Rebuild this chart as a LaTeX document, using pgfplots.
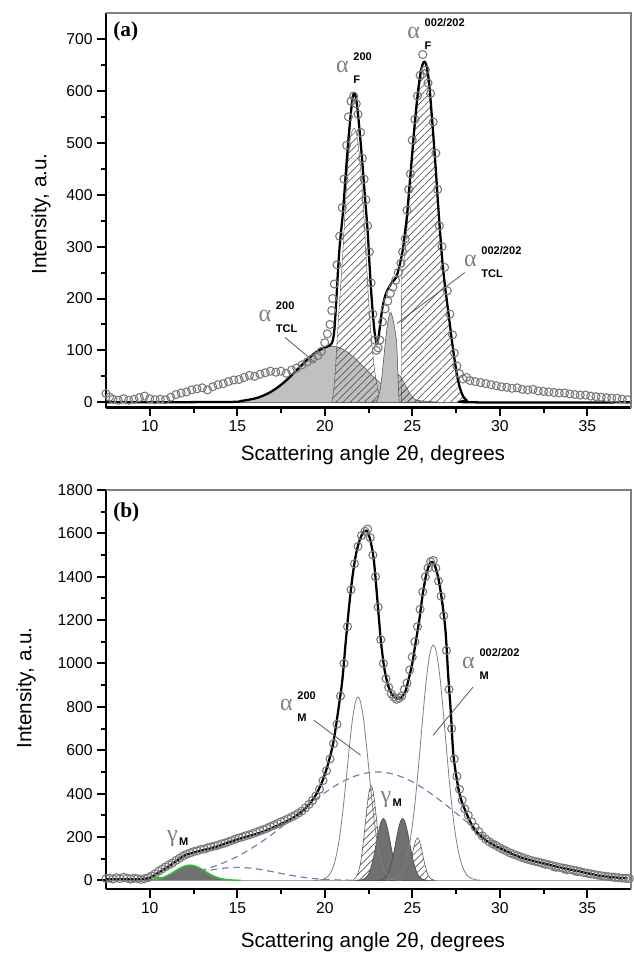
\documentclass[border=0pt]{standalone}
\usepackage{fontspec}
\setmainfont{Liberation Sans}
\newfontfamily\serifg{Liberation Serif}
\usepackage{pgfplots}
\pgfplotsset{compat=1.18}
\usetikzlibrary{patterns.meta}
\definecolor{dashblue}{RGB}{120,125,180}
\definecolor{hatchc}{RGB}{85,85,85}
\definecolor{lgray}{RGB}{192,192,192}
\definecolor{dgray}{RGB}{112,112,112}
\definecolor{circ}{RGB}{120,120,120}
\definecolor{gline}{RGB}{40,200,40}
\newcommand{\glab}[3]{\textcolor{gray}{\fontsize{18}{18}\selectfont\serifg #1}\hspace{3.6pt}\begin{tabular}[c]{@{}l@{}}\fontsize{8.3}{8.3}\selectfont\bfseries #2\\[5.2pt]\fontsize{8.3}{8.3}\selectfont\bfseries #3\end{tabular}}
\newcommand{\gmlab}{\textcolor{gray}{\fontsize{18}{18}\selectfont\serifg γ}\hspace{1.2pt}\raisebox{-3pt}{\fontsize{8.3}{8.3}\selectfont\bfseries M}}
\pgfplotsset{
 myaxis/.style={
  scale only axis, width=393.75pt, xmin=7.5, xmax=37.5,
  axis lines=left, axis line style={-, line width=2pt, black},
  tick align=outside, major tick length=6.5pt, minor tick length=4pt,
  every tick/.style={black, line width=1.5pt},
  minor x tick num=1, minor y tick num=1,
  xtick={10,15,...,35},
  tick label style={font=\fontsize{11.8}{12}\selectfont},
  /pgf/number format/assume math mode=true,
  /pgf/number format/1000 sep={},
  clip=false,
 },
 hatch/.style={pattern={Lines[angle=45,distance=3.8pt,line width=0.5pt]}, pattern color=hatchc},
 circs/.style={only marks, mark=o, mark size=3pt, mark options={draw=circ, line width=0.8pt}},
 fitl/.style={black, line width=1.7pt},
}
\begin{document}
\begin{tikzpicture}
\path[use as bounding box] (0,0) rectangle (475.5pt,-714.75pt);
% ---------------- (a) ----------------
\begin{axis}[myaxis, at={(79.5pt,-9.75pt)}, anchor=north west, height=295.9pt,
  ymin=-10, ymax=750, ytick={0,100,...,700}]
\draw[gray, line width=0.8pt] (rel axis cs:0,1) -- (rel axis cs:1,1) -- (rel axis cs:1,0);
\draw[gray!70, line width=0.6pt] (axis cs:7.5,0) -- (axis cs:37.5,0);
% TCL 200 (grey)
\addplot[smooth, fill=lgray, draw=gray!60!black, line width=0.4pt] coordinates {
(14.4,0.7)(14.8,1.4)(15.2,2.5)(15.6,4.4)(16.0,7.4)(16.4,11.8)(16.8,17.9)(17.2,26.2)(17.6,36.5)(18.0,48.6)(18.4,62.1)(18.8,75.7)(19.2,88.5)(19.6,98.8)(20.0,105.6)(20.4,108)(20.8,105.6)(21.2,98.8)(21.6,88.5)(22.0,75.7)(22.4,62.1)(22.8,48.6)(23.2,36.5)(23.6,26.2)(24.0,17.9)(24.4,11.8)(24.8,7.4)(25.2,4.4)(25.6,2.5)(26.0,1.4)(26.4,0.7)} \closedcycle;
% hump under TCL 002/202
\addplot[smooth, fill=lgray, draw=none] coordinates {
(22.7,1.1)(22.9,3.1)(23.1,7.4)(23.3,15.3)(23.5,26.8)(23.7,40)(23.9,50.8)(24.1,55)(24.3,50.8)(24.5,40)(24.7,26.8)(24.9,15.3)(25.1,7.4)(25.3,3.1)(25.5,1.1)} \closedcycle;
\addplot[smooth, hatch, draw=gray!60!black, line width=0.3pt] coordinates {
(22.7,1.1)(22.9,3.1)(23.1,7.4)(23.3,15.3)(23.5,26.8)(23.7,40)(23.9,50.8)(24.1,55)(24.3,50.8)(24.5,40)(24.7,26.8)(24.9,15.3)(25.1,7.4)(25.3,3.1)(25.5,1.1)} \closedcycle;
% F 200 (hatched)
\addplot[smooth, hatch, draw=gray!60!black, line width=0.3pt] coordinates {
(20.4,0)(20.5,20)(20.6,60)(20.7,115)(20.8,170)(20.9,220)(21.0,270)(21.1,330)(21.2,390)(21.3,450)(21.4,490)(21.5,515)(21.6,525)(21.7,528)(21.8,520)(21.9,500)(22.0,470)(22.1,430)(22.2,380)(22.3,320)(22.4,260)(22.5,200)(22.6,150)(22.7,110)(22.8,75)(22.9,50)(23.0,30)(23.1,17)(23.2,8)(23.3,3)(23.4,0)} \closedcycle;
% F 002/202 (hatched)
\addplot[hatch, draw=gray!60!black, line width=0.3pt] coordinates {
(24.38,0)(24.4,245)(24.5,265)(24.6,295)(24.7,335)(24.85,405)(25.0,465)(25.15,525)(25.3,575)(25.45,615)(25.6,638)(25.7,642)(25.8,636)(25.95,606)(26.1,556)(26.3,466)(26.5,366)(26.7,277)(26.85,228)(27.0,188)(27.15,148)(27.3,108)(27.45,73)(27.6,43)(27.75,23)(27.9,10)(28.1,3)(28.3,0)} \closedcycle;
% TCL 002/202 (grey)
\addplot[fill=lgray, draw=gray!60!black, line width=0.4pt] coordinates {
(22.95,0)(23.05,8)(23.15,22)(23.25,45)(23.35,78)(23.45,112)(23.55,142)(23.65,163)(23.72,173)(23.8,172)(23.9,160)(24.0,142)(24.1,120)(24.15,85)(24.2,35)(24.25,0)} \closedcycle;
% data
\addplot[circs] coordinates {
(7.5,17)(7.7,10)(7.9,6)(8.2,4)(8.5,7)(8.8,4)(9.1,6)(9.4,9)(9.7,12)(10.0,7)(10.3,5)(10.6,6)(10.9,5)(11.2,10)(11.5,15)(11.8,18)(12.1,20)(12.4,24)(12.7,26)(13.0,28)(13.3,24)(13.6,30)(13.9,34)(14.2,36)(14.5,40)(14.8,43)(15.1,44)(15.4,48)(15.7,52)(16.0,50)(16.3,54)(16.6,57)(16.9,60)(17.2,58)(17.5,60)(17.8,56)(18.1,62)(18.4,66)(18.7,72)(19.0,78)(19.3,84)(19.6,90)(19.8,98)(20.0,115)(20.15,132)(20.3,150)(20.4,177)(20.45,200)(20.55,228)(20.7,265)(20.85,320)(21.0,375)(21.1,430)(21.25,495)(21.35,550)(21.5,580)(21.65,590)(21.8,575)(21.9,555)(22.05,520)(22.15,470)(22.25,430)(22.35,390)(22.45,340)(22.55,290)(22.65,230)(22.75,170)(22.85,120)(22.95,100)(23.05,105)(23.15,120)(23.3,155)(23.45,180)(23.6,195)(23.75,210)(23.9,222)(24.05,235)(24.2,250)(24.35,268)(24.45,290)(24.6,315)(24.7,370)(24.8,410)(24.9,440)(25.0,505)(25.15,545)(25.3,590)(25.45,630)(25.6,670)(25.75,640)(25.9,615)(26.05,595)(26.2,540)(26.35,480)(26.45,410)(26.55,340)(26.7,300)(26.85,260)(27.0,215)(27.15,170)(27.3,130)(27.4,95)(27.55,70)(27.7,55)(27.9,45)(28.1,48)(28.3,42)(28.6,40)(28.9,38)(29.2,36)(29.5,34)(29.8,32)(30.1,30)(30.4,29)(30.7,27)(31.0,28)(31.3,25)(31.6,24)(31.9,25)(32.2,22)(32.5,21)(32.8,20)(33.1,19)(33.4,18)(33.7,18)(34.0,16)(34.3,15)(34.6,14)(34.9,14)(35.2,12)(35.5,11)(35.8,10)(36.1,9)(36.4,8)(36.7,8)(37.0,6)(37.3,5)};
% fit
\addplot[fitl, smooth] coordinates {
(7.5,0)(14.4,0.7)(15.2,2.5)(16.0,7.4)(16.4,11.8)(16.8,17.9)(17.2,26.2)(17.6,36.5)(18.0,48.6)(18.4,62.1)(18.8,75.7)(19.2,88.5)(19.6,98.8)(20.0,105.6)(20.3,110)(20.45,118)(20.55,140)(20.65,190)(20.75,250)(20.85,300)(20.95,335)(21.05,370)(21.2,440)(21.35,505)(21.5,560)(21.6,588)(21.68,595)(21.78,588)(21.9,555)(22.0,520)(22.14,465)(22.3,395)(22.46,325)(22.55,270)(22.65,215)(22.75,170)(22.85,135)(22.97,113)(23.07,125)(23.15,145)(23.3,183)(23.5,210)(23.8,229)(24.07,240)(24.25,260)(24.45,292)(24.6,331)(24.7,360)(24.85,420)(25.0,480)(25.15,540)(25.3,590)(25.45,630)(25.6,652)(25.7,656)(25.8,650)(25.95,620)(26.1,560)(26.3,470)(26.5,370)(26.7,280)(26.85,230)(27.0,190)(27.15,150)(27.3,110)(27.45,75)(27.6,45)(27.75,25)(27.9,12)(28.1,4)(28.4,0)(37.5,0)};
% labels
\node[anchor=north west, inner sep=0] at (axis cs:7.9,733) {\fontsize{16}{16}\selectfont\serifg\bfseries (a)};
\node at (axis cs:21.67,642) {\glab{α}{200}{F}};
\node at (axis cs:26.36,708) {\glab{α}{002/202}{F}};
\node at (axis cs:17.33,162) {\glab{α}{200}{TCL}};
\node at (axis cs:29.6,269) {\glab{α}{002/202}{TCL}};
\draw[gray!70!black, line width=0.6pt] (axis cs:17.73,125) -- (axis cs:19.44,77);
\draw[gray!70!black, line width=0.6pt] (axis cs:28.01,250) -- (axis cs:24.13,152);
\end{axis}
% ---------------- (b) ----------------
\begin{axis}[myaxis, at={(79.5pt,-367.5pt)}, anchor=north west, height=299.25pt,
  ymin=-40, ymax=1800, ytick={0,200,...,1800}]
\draw[gray, line width=0.8pt] (rel axis cs:0,1) -- (rel axis cs:1,1) -- (rel axis cs:1,0);
\draw[gray!70, line width=0.6pt] (axis cs:7.5,0) -- (axis cs:37.5,0);
% broad amorphous halo
\addplot[smooth, dashblue, line width=0.9pt, dash pattern=on 5pt off 3.5pt] coordinates {
(9,4.9)(10,9)(11,17)(12,29)(13,47)(14,74)(15,110)(16,157)(17,213)(18,277)(19,343)(20,404)(21,455)(22,488)(23,500)(24,488)(25,455)(26,404)(27,343)(28,277)(29,213)(30,157)(31,110)(32,74)(33,47)(34,29)(35,17)(36,9)(37,4.9)};
\addplot[smooth, dashblue, line width=0.9pt, dash pattern=on 5pt off 3.5pt] coordinates {
(9,1.5)(10,4.5)(11,11.5)(12,24)(13,40)(14,54)(15,60)(16,54)(17,40)(18,24)(19,11.5)(20,4.5)(21,1.5)(22,0.4)};
% gamma_M (green)
\addplot[smooth, fill=dgray, draw=none] coordinates {
(9.8,0.9)(10.3,4.4)(10.55,8.4)(10.8,14.8)(11.05,23.7)(11.3,35)(11.55,47.5)(11.8,59)(12.05,67)(12.3,70)(12.55,67)(12.8,59)(13.05,47.5)(13.3,35)(13.55,23.7)(13.8,14.8)(14.05,8.4)(14.3,4.4)(14.8,0.9)(15.2,0)} \closedcycle;
\addplot[smooth, gline, line width=1.1pt] coordinates {
(9.8,0.9)(10.3,4.4)(10.55,8.4)(10.8,14.8)(11.05,23.7)(11.3,35)(11.55,47.5)(11.8,59)(12.05,67)(12.3,70)(12.55,67)(12.8,59)(13.05,47.5)(13.3,35)(13.55,23.7)(13.8,14.8)(14.05,8.4)(14.3,4.4)(14.8,0.9)(15.2,0)};
% hatched peaks
\addplot[smooth, hatch, draw=gray!60!black, line width=0.4pt] coordinates {
(21.65,4.4)(21.75,10.5)(21.85,23)(21.95,46)(22.05,83)(22.15,138)(22.25,209)(22.35,288)(22.45,362)(22.55,415)(22.65,435)(22.75,415)(22.85,362)(22.95,288)(23.05,209)(23.15,138)(23.25,83)(23.35,46)(23.45,23)(23.55,10.5)(23.65,4.4)} \closedcycle;
\addplot[smooth, hatch, draw=gray!60!black, line width=0.4pt] coordinates {
(24.3,0.8)(24.4,2.2)(24.5,5.6)(24.6,12.8)(24.7,26)(24.8,49)(24.9,80)(25.0,118)(25.1,156)(25.2,184)(25.3,195)(25.4,184)(25.5,156)(25.6,118)(25.7,80)(25.8,49)(25.9,26)(26.0,12.8)(26.1,5.6)(26.2,2.2)(26.3,0.8)} \closedcycle;
% dark grey gamma_M peaks
\addplot[smooth, fill=dgray, draw=black!70, line width=0.5pt] coordinates {
(21.95,0.6)(22.15,3.1)(22.35,12.5)(22.45,22.7)(22.55,38.6)(22.65,62)(22.75,93)(22.85,130)(22.95,173)(23.05,215)(23.15,251)(23.25,276)(23.35,285)(23.45,276)(23.55,251)(23.65,215)(23.75,173)(23.85,130)(23.95,93)(24.05,62)(24.15,38.6)(24.25,22.7)(24.35,12.5)(24.55,3.1)(24.75,0.6)} \closedcycle;
\addplot[smooth, fill=dgray, draw=black!70, line width=0.5pt] coordinates {
(23.05,0.6)(23.25,3.1)(23.45,12.5)(23.55,22.7)(23.65,38.6)(23.75,62)(23.85,93)(23.95,130)(24.05,173)(24.15,215)(24.25,251)(24.35,276)(24.45,285)(24.55,276)(24.65,251)(24.75,215)(24.85,173)(24.95,130)(25.05,93)(25.15,62)(25.25,38.6)(25.35,22.7)(25.45,12.5)(25.65,3.1)(25.85,0.6)} \closedcycle;
% alpha_M outlines
\addplot[smooth, gray, line width=0.6pt] coordinates {
(19.4,0.3)(19.7,1.5)(19.9,4.7)(20.1,12.5)(20.2,19.7)(20.3,30)(20.4,45)(20.5,66)(20.6,94)(20.7,130)(20.8,175)(20.9,230)(21.0,295)(21.1,368)(21.2,447)(21.3,529)(21.4,610)(21.5,686)(21.6,752)(21.7,802)(21.8,834)(21.9,845)(22.0,834)(22.1,802)(22.2,752)(22.3,686)(22.4,610)(22.5,529)(22.6,447)(22.7,368)(22.8,295)(22.9,230)(23.0,175)(23.1,130)(23.2,94)(23.3,66)(23.4,45)(23.5,30)(23.6,19.7)(23.7,12.5)(23.9,4.7)(24.1,1.5)(24.4,0.3)};
\addplot[smooth, gray, line width=0.6pt] coordinates {
(23.5,0.6)(23.8,3)(24.0,7.8)(24.2,18)(24.3,27)(24.4,40)(24.5,57)(24.6,80)(24.7,109)(24.8,147)(24.9,194)(25.0,250)(25.1,316)(25.2,391)(25.3,475)(25.4,565)(25.5,658)(25.6,752)(25.7,841)(25.8,922)(25.9,990)(26.0,1042)(26.1,1074)(26.2,1085)(26.3,1074)(26.4,1042)(26.5,990)(26.6,922)(26.7,841)(26.8,752)(26.9,658)(27.0,565)(27.1,475)(27.2,391)(27.3,316)(27.4,250)(27.5,194)(27.6,147)(27.7,109)(27.8,80)(27.9,57)(28.0,40)(28.1,27)(28.2,18)(28.4,7.8)(28.6,3)(28.9,0.6)};
% data
\addplot[circs] coordinates {
(7.5,8)(7.7,10)(7.9,6)(8.1,12)(8.3,8)(8.5,14)(8.7,10)(8.9,6)(9.1,10)(9.3,8)(9.5,4)(9.7,8)(9.9,12)(10.1,20)(10.3,30)(10.5,42)(10.7,52)(10.9,62)(11.1,72)(11.3,80)(11.5,92)(11.7,102)(11.9,112)(12.1,120)(12.3,126)(12.5,132)(12.7,136)(12.9,142)(13.1,144)(13.3,150)(13.5,154)(13.7,158)(13.9,162)(14.1,168)(14.3,172)(14.5,178)(14.7,184)(14.9,190)(15.1,196)(15.3,200)(15.5,206)(15.7,210)(15.9,216)(16.1,222)(16.3,228)(16.5,234)(16.7,240)(16.9,248)(17.1,254)(17.3,262)(17.5,270)(17.7,276)(17.9,284)(18.1,292)(18.3,300)(18.5,310)(18.7,320)(18.9,334)(19.1,350)(19.3,368)(19.5,390)(19.7,420)(19.9,460)(20.1,505)(20.3,560)(20.5,630)(20.7,720)(20.9,850)(21.1,1000)(21.3,1170)(21.5,1340)(21.7,1460)(21.9,1540)(22.1,1590)(22.3,1610)(22.45,1620)(22.6,1580)(22.75,1500)(22.9,1400)(23.05,1260)(23.2,1110)(23.35,1000)(23.5,930)(23.65,890)(23.8,860)(23.95,845)(24.1,835)(24.25,840)(24.4,850)(24.55,880)(24.7,910)(24.85,970)(25.0,1030)(25.15,1100)(25.3,1170)(25.45,1250)(25.6,1330)(25.75,1400)(25.9,1440)(26.05,1470)(26.2,1475)(26.35,1440)(26.5,1380)(26.65,1310)(26.8,1220)(26.95,1060)(27.1,880)(27.25,700)(27.4,560)(27.55,480)(27.7,420)(27.85,370)(28.0,330)(28.2,300)(28.4,270)(28.6,245)(28.8,225)(29.0,205)(29.2,190)(29.4,178)(29.6,168)(29.8,160)(30.0,150)(30.2,142)(30.4,134)(30.6,126)(30.8,120)(31.0,114)(31.2,108)(31.4,102)(31.6,97)(31.8,92)(32.0,88)(32.2,84)(32.4,80)(32.6,76)(32.8,72)(33.0,68)(33.2,64)(33.4,60)(33.6,57)(33.8,54)(34.0,50)(34.2,47)(34.4,44)(34.6,40)(34.8,36)(35.0,33)(35.2,30)(35.4,27)(35.6,24)(35.8,21)(36.0,19)(36.2,17)(36.4,15)(36.6,13)(36.8,12)(37.0,10)(37.2,9)(37.4,8)};
% fit
\addplot[fitl, smooth] coordinates {
(7.5,5)(8.5,5)(9.5,6)(10.0,12)(10.5,35)(11.0,60)(11.5,88)(12.0,115)(12.5,128)(13.0,138)(13.5,148)(14.0,160)(14.5,175)(15.0,188)(15.5,200)(16.0,212)(16.5,225)(17.0,242)(17.5,260)(18.0,280)(18.5,305)(19.0,340)(19.5,395)(19.9,465)(20.2,540)(20.5,640)(20.8,800)(21.0,920)(21.2,1100)(21.4,1270)(21.6,1410)(21.8,1510)(22.0,1570)(22.2,1605)(22.4,1612)(22.6,1570)(22.8,1480)(23.0,1300)(23.2,1110)(23.4,980)(23.6,905)(23.8,863)(24.0,845)(24.3,838)(24.6,870)(24.8,930)(25.0,1000)(25.2,1100)(25.4,1200)(25.6,1320)(25.8,1410)(26.0,1460)(26.15,1468)(26.3,1450)(26.5,1390)(26.7,1290)(26.9,1150)(27.05,950)(27.2,780)(27.35,580)(27.6,440)(27.8,370)(28.2,290)(28.6,231)(29.2,185)(29.9,152)(30.5,130)(31.0,112)(31.8,92)(32.5,78)(33.0,68)(33.7,55)(34.5,42)(35.6,23)(36.5,14)(37.3,9)};
% labels
\node[anchor=north west, inner sep=0] at (axis cs:7.9,1744) {\fontsize{16}{16}\selectfont\serifg\bfseries (b)};
\node at (axis cs:18.47,798) {\glab{α}{200}{M}};
\node at (axis cs:29.49,992) {\glab{α}{002/202}{M}};
\node at (axis cs:11.6,195) {\gmlab};
\node at (axis cs:23.8,372) {\gmlab};
\draw[gray!70!black, line width=0.6pt] (axis cs:19.38,738) -- (axis cs:22.05,577);
\draw[gray!70!black, line width=0.6pt] (axis cs:28.47,891) -- (axis cs:26.19,669);
\end{axis}
% axis titles
\node at (279.75pt,-341.25pt) {\fontsize{15.5}{16}\selectfont Scattering angle 2θ, degrees};
\node[rotate=90] at (30.75pt,-160.5pt) {\fontsize{15.5}{16}\selectfont Intensity, a.u.};
\node at (279.75pt,-706.5pt) {\fontsize{15.5}{16}\selectfont Scattering angle 2θ, degrees};
\node[rotate=90] at (19.5pt,-516pt) {\fontsize{15.5}{16}\selectfont Intensity, a.u.};
\end{tikzpicture}
\end{document}
